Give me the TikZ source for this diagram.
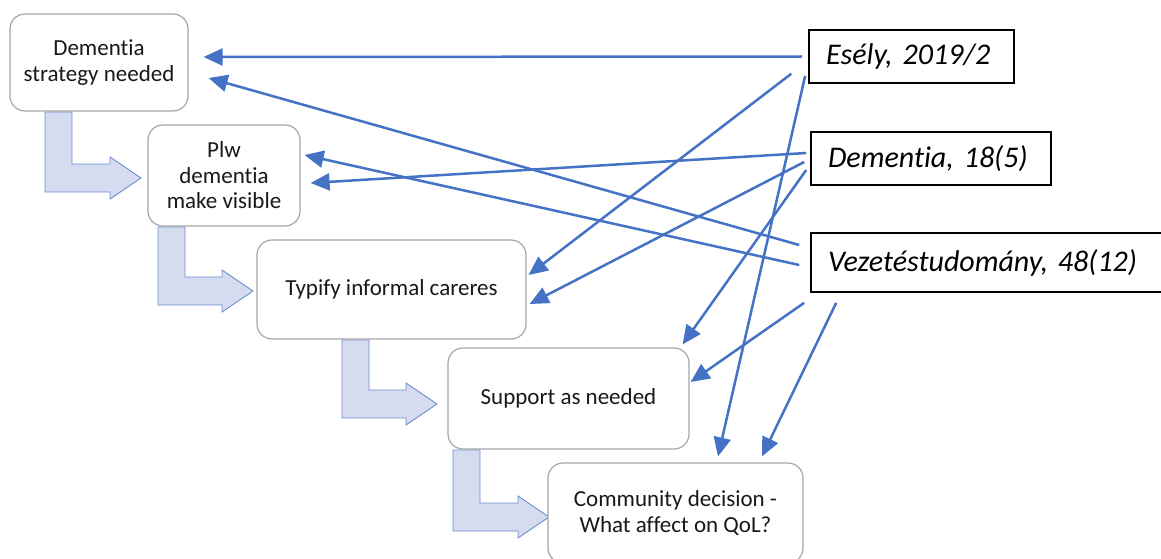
\documentclass[tikz,border=0pt]{standalone}
\usepackage{fontspec}
\setmainfont{Carlito}[Ligatures={NoCommon,NoRequired,NoContextual}]
\usetikzlibrary{arrows.meta,calc}
\definecolor{linkblue}{HTML}{4472C4}
\definecolor{stepfill}{HTML}{D6DCF0}
\definecolor{boxgray}{HTML}{A6A6A6}
\frenchspacing

\begin{document}
\begin{tikzpicture}[x=1pt, y=-1pt,
    topic/.style={draw=boxgray, line width=1.2pt, rounded corners=15pt, fill=white, align=center, inner sep=0pt, text=black!90, font=\fontsize{23}{25.5}\selectfont},
    source/.style={draw=black, line width=1.6pt, fill=white, inner ysep=0pt, inner xsep=17pt, align=left, font=\fontsize{30}{36}\selectfont\itshape},
    link/.style={draw=linkblue, line width=2.5pt, -{Triangle[length=19pt,width=17pt]}},
    flow/.style={draw=linkblue!80, line width=0.9pt, fill=stepfill}]
    \useasboundingbox (0,0) rectangle (1161,559);
    \clip (0,0) rectangle (1161,559);

    % stepping arrows between the topics
    \foreach \sx/\sy/\tx/\ty in {45/112/141/178, 158/227/253/291, 342/340/437/404, 453/450/549/517}
        \draw[flow] (\sx,\sy) -- ++(27,0) -- (\sx+27,\ty-14) -- (\tx-31,\ty-14) -- (\tx-31,\ty-21) -- (\tx,\ty) -- (\tx-31,\ty+21) -- (\tx-31,\ty+14) -- (\sx,\ty+14) -- cycle;

    % topics
    \node[topic, minimum width=178pt, minimum height=97pt] (strat) at (99,62.5) {Dementia\\strategy needed};
    \node[topic, minimum width=152pt, minimum height=101pt] (plw) at (224,175.5) {Plw\\dementia\\make visible};
    \node[topic, minimum width=269pt, minimum height=99pt] (typify) at (391.5,289.5) {Typify informal careres};
    \node[topic, minimum width=241pt, minimum height=101pt] (support) at (568.5,398.5) {Support as needed};
    \node[topic, minimum width=255pt, minimum height=100pt] (community) at (675.5,513) {Community decision -\\What affect on QoL?};

    % sources
    \node[source, text width=171pt, minimum height=53pt] (esely) at (911.5,56.5) {Esély, 2019/2};
    \node[source, text width=206pt, minimum height=53pt] (demj) at (931,158.5) {Dementia, 18(5)};
    \node[source, text width=326pt, minimum height=59pt] (vezet) at (991,262.5) {Vezetéstudomány, 48(12)};

    % links
    \draw[link] ($(esely.west)+(-6,0)$) -- ($(strat.east)+(15,-5.5)$);
    \draw[link] ($(esely.south west)+(-17,-10)$) -- ($(typify.east)+(2,-14.5)$);
    \draw[link] ($(esely.south west)+(-3,-8)$) -- ($(community.north)+(42.5,-6)$);
    \draw[link] ($(demj.west)+(-4,-5.5)$) -- ($(plw.east)+(10,7.5)$);
    \draw[link] ($(demj.west)+(-6,3.5)$) -- ($(typify.east)+(3,14.5)$);
    \draw[link] ($(demj.west)+(-4,11.5)$) -- ($(support.north east)+(-7,-3)$);
    \draw[link] ($(vezet.west)+(-11,-17.5)$) -- ($(strat.east)+(20,15.5)$);
    \draw[link] ($(vezet.west)+(-11,2.5)$) -- ($(plw.east)+(4,-20.5)$);
    \draw[link] ($(vezet.south west)+(-6,10)$) -- ($(support.east)+(1,-16.5)$);
    \draw[link] ($(vezet.south west)+(26,10)$) -- ($(community.north)+(86.5,-6)$);
\end{tikzpicture}
\end{document}
